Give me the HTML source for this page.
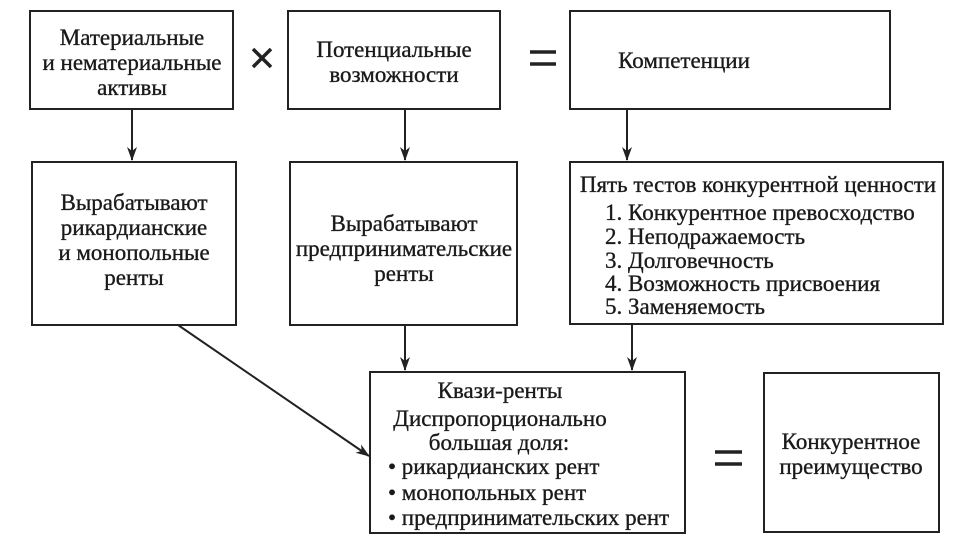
<!DOCTYPE html>
<html><head><meta charset="utf-8"><style>
html,body{margin:0;padding:0;background:#fff;}
svg{display:block;}
text{font-family:"Liberation Serif","DejaVu Serif",serif;font-size:23px;fill:#1a1a1a;stroke:#1a1a1a;stroke-width:0.35;}
</style></head><body>
<svg width="960" height="540" viewBox="0 0 960 540" xmlns="http://www.w3.org/2000/svg">
<defs>
<marker id="b" markerWidth="14" markerHeight="10" refX="13" refY="5" orient="auto" markerUnits="userSpaceOnUse"><path d="M0,0 L14,5 L0,10 L4,5 Z" fill="#222"/></marker></defs>
<g fill="none" stroke="#222" stroke-width="2">
<rect x="30" y="11" width="203" height="98"/>
<rect x="288" y="11" width="212" height="98"/>
<rect x="570" y="11" width="320" height="98"/>
<rect x="32" y="162" width="204" height="163"/>
<rect x="290" y="162" width="227" height="163"/>
<rect x="570" y="162" width="373" height="162"/>
<rect x="370" y="372" width="315" height="161"/>
<rect x="764" y="373" width="175" height="159"/>
<line x1="132" y1="109" x2="132" y2="160" marker-end="url(#b)"/>
<line x1="405" y1="109" x2="405" y2="160" marker-end="url(#b)"/>
<line x1="627" y1="109" x2="627" y2="160" marker-end="url(#b)"/>
<line x1="405" y1="325" x2="405" y2="370" marker-end="url(#b)"/>
<line x1="632" y1="324" x2="632" y2="370" marker-end="url(#b)"/>
<line x1="178" y1="325" x2="369" y2="456" marker-end="url(#b)"/>
</g>
<g stroke="#222" stroke-width="3.5"><line x1="253" y1="49" x2="271" y2="67"/><line x1="271" y1="49" x2="253" y2="67"/>
<line x1="530" y1="52" x2="556" y2="52"/><line x1="530" y1="64" x2="556" y2="64"/>
<line x1="715" y1="452" x2="742" y2="452"/><line x1="715" y1="464" x2="742" y2="464"/></g>
<g text-anchor="middle">
<text x="132" y="45">Материальные</text><text x="132" y="70">и нематериальные</text><text x="132" y="95">активы</text>
<text x="394" y="57">Потенциальные</text><text x="394" y="82">возможности</text>
<text x="684" y="68">Компетенции</text>
<text x="134" y="210">Вырабатывают</text><text x="134" y="235">рикардианские</text><text x="134" y="260">и монопольные</text><text x="134" y="285">ренты</text>
<text x="404" y="231">Вырабатывают</text><text x="404" y="256">предпринимательские</text><text x="404" y="281">ренты</text>
<text x="758" y="192">Пять тестов конкурентной ценности</text>
<text x="500" y="398">Квази-ренты</text><text x="500" y="426">Диспропорционально</text><text x="499" y="450">большая доля:</text>
<text x="851" y="449">Конкурентное</text><text x="851" y="474">преимущество</text>
</g>
<text x="605" y="220">1. Конкурентное превосходство</text>
<text x="605" y="244">2. Неподражаемость</text>
<text x="605" y="268">3. Долговечность</text>
<text x="605" y="291">4. Возможность присвоения</text>
<text x="605" y="314">5. Заменяемость</text>
<text x="388" y="474">• рикардианских рент</text>
<text x="388" y="500">• монопольных рент</text>
<text x="388" y="525">• предпринимательских рент</text>
</svg>
</body></html>
